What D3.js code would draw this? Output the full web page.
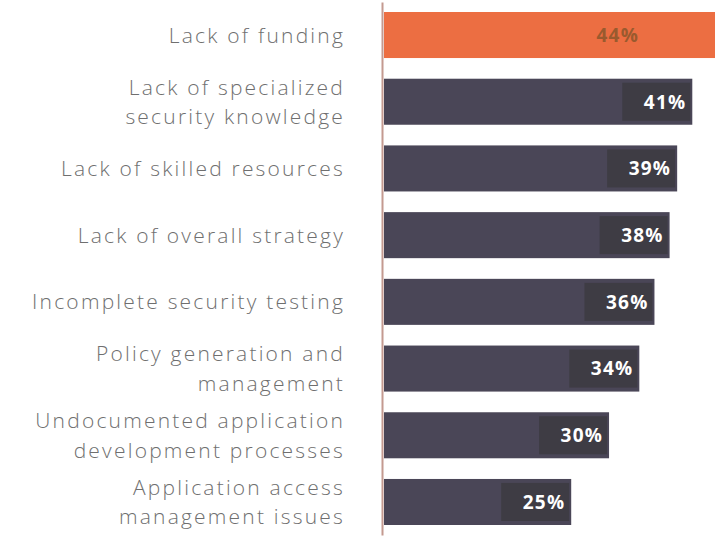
<!DOCTYPE html>
<html>
<head>
<meta charset="utf-8">
<script src="https://cdn.jsdelivr.net/npm/d3@7"></script>
<style>
  html, body { margin: 0; padding: 0; background: #ffffff; }
  svg { display: block; }
</style>
</head>
<body>
<svg id="chart" width="720" height="541"></svg>
<script>
// Barriers to application security, share of respondents
const categories = [
  ["Lack of funding"],
  ["Lack of specialized", "security knowledge"],
  ["Lack of skilled resources"],
  ["Lack of overall strategy"],
  ["Incomplete security testing"],
  ["Policy generation and", "management"],
  ["Undocumented application", "development processes"],
  ["Application access", "management issues"]
];
const values = [44, 41, 39, 38, 36, 34, 30, 25];
const highlighted = [true, false, false, false, false, false, false, false];

const W = 720, H = 541;
const margin = { top: 2, right: 0, bottom: 6, left: 382 };

const svg = d3.select("#chart");

const rows = categories.map((c, i) => ({ id: i, lines: c, value: values[i], hi: highlighted[i] }));

const x = d3.scaleLinear().domain([0, 44]).range([margin.left, 715]);
const y = d3.scaleBand()
  .domain(rows.map(d => d.id))
  .range([margin.top, H - margin.bottom])
  .paddingInner(0.31)
  .paddingOuter(0.15);

// bars
svg.append("g")
  .selectAll("rect")
  .data(rows)
  .join("rect")
  .attr("x", x(0) + 2)
  .attr("y", d => y(d.id))
  .attr("width", d => x(d.value) - x(0) - 2)
  .attr("height", y.bandwidth())
  .attr("fill", d => d.hi ? "#ec6e42" : "#4a4657");

// darker plate behind each value label
svg.append("g")
  .selectAll("rect")
  .data(rows.filter(d => !d.hi))
  .join("rect")
  .attr("x", d => x(d.value) - 70)
  .attr("y", d => y(d.id) + 4)
  .attr("width", 68)
  .attr("height", y.bandwidth() - 8)
  .attr("fill", "#3e3c44");

// value labels
svg.append("g")
  .selectAll("text")
  .data(rows)
  .join("text")
  .attr("x", d => d.hi ? x(d.value) - 76 : x(d.value) - 6)
  .attr("y", d => y(d.id) + y.bandwidth() / 2)
  .attr("dy", "0.36em")
  .attr("text-anchor", "end")
  .attr("font-family", "Open Sans, sans-serif")
  .attr("font-weight", 700)
  .attr("font-size", 19)
  .attr("letter-spacing", 1.2)
  .attr("fill", d => d.hi ? "#9a5a2e" : "#ffffff")
  .text(d => d.value + "%");

// left axis
const axis = d3.axisLeft(y).tickSize(0).tickFormat("");
const ag = svg.append("g")
  .attr("transform", `translate(${margin.left},0)`)
  .call(axis);
ag.select(".domain").attr("stroke", "#c49a90").attr("stroke-width", 2);

// category labels
const lab = svg.append("g")
  .selectAll("text")
  .data(rows)
  .join("text")
  .attr("x", 345)
  .attr("y", d => y(d.id) + y.bandwidth() / 2)
  .attr("text-anchor", "end")
  .attr("font-family", "Open Sans, sans-serif")
  .attr("font-weight", 300)
  .attr("font-size", 21)
  .attr("letter-spacing", 2.2)
  .attr("fill", "#6f6f6f");

lab.each(function(d) {
  const n = d.lines.length;
  d3.select(this).selectAll("tspan")
    .data(d.lines)
    .join("tspan")
    .attr("x", 345)
    .attr("dy", (t, i) => i === 0 ? `${0.36 - (n - 1) * 0.7}em` : "1.4em")
    .text(t => t);
});
</script>
</body>
</html>
